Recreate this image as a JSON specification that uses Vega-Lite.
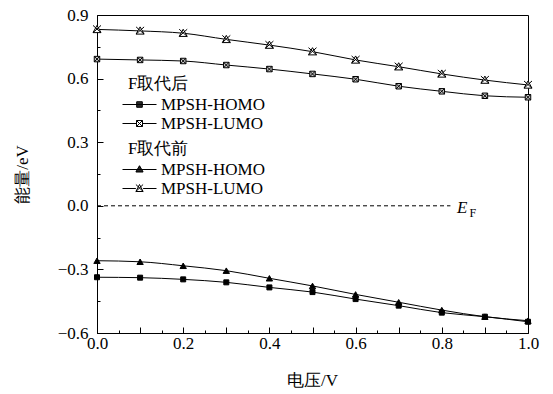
{
  "$schema": "https://vega.github.io/schema/vega-lite/v6.json",
  "width": 431,
  "height": 318,
  "autosize": "none",
  "padding": {"left": 97, "top": 15, "right": 25, "bottom": 61},
  "config": {
    "view": {"stroke": "black", "strokeWidth": 1},
    "font": "Liberation Serif"
  },
  "data": {
    "values": [
      {"v": 0.0, "e": -0.337, "group": "after", "series": "MPSH-HOMO"},
      {"v": 0.1, "e": -0.339, "group": "after", "series": "MPSH-HOMO"},
      {"v": 0.2, "e": -0.347, "group": "after", "series": "MPSH-HOMO"},
      {"v": 0.3, "e": -0.361, "group": "after", "series": "MPSH-HOMO"},
      {"v": 0.4, "e": -0.385, "group": "after", "series": "MPSH-HOMO"},
      {"v": 0.5, "e": -0.407, "group": "after", "series": "MPSH-HOMO"},
      {"v": 0.6, "e": -0.440, "group": "after", "series": "MPSH-HOMO"},
      {"v": 0.7, "e": -0.471, "group": "after", "series": "MPSH-HOMO"},
      {"v": 0.8, "e": -0.504, "group": "after", "series": "MPSH-HOMO"},
      {"v": 0.9, "e": -0.523, "group": "after", "series": "MPSH-HOMO"},
      {"v": 1.0, "e": -0.547, "group": "after", "series": "MPSH-HOMO"},
      {"v": 0.0, "e": 0.692, "group": "after", "series": "MPSH-LUMO"},
      {"v": 0.1, "e": 0.688, "group": "after", "series": "MPSH-LUMO"},
      {"v": 0.2, "e": 0.683, "group": "after", "series": "MPSH-LUMO"},
      {"v": 0.3, "e": 0.664, "group": "after", "series": "MPSH-LUMO"},
      {"v": 0.4, "e": 0.645, "group": "after", "series": "MPSH-LUMO"},
      {"v": 0.5, "e": 0.622, "group": "after", "series": "MPSH-LUMO"},
      {"v": 0.6, "e": 0.597, "group": "after", "series": "MPSH-LUMO"},
      {"v": 0.7, "e": 0.564, "group": "after", "series": "MPSH-LUMO"},
      {"v": 0.8, "e": 0.540, "group": "after", "series": "MPSH-LUMO"},
      {"v": 0.9, "e": 0.519, "group": "after", "series": "MPSH-LUMO"},
      {"v": 1.0, "e": 0.512, "group": "after", "series": "MPSH-LUMO"},
      {"v": 0.0, "e": -0.259, "group": "before", "series": "MPSH-HOMO"},
      {"v": 0.1, "e": -0.264, "group": "before", "series": "MPSH-HOMO"},
      {"v": 0.2, "e": -0.283, "group": "before", "series": "MPSH-HOMO"},
      {"v": 0.3, "e": -0.306, "group": "before", "series": "MPSH-HOMO"},
      {"v": 0.4, "e": -0.342, "group": "before", "series": "MPSH-HOMO"},
      {"v": 0.5, "e": -0.378, "group": "before", "series": "MPSH-HOMO"},
      {"v": 0.6, "e": -0.418, "group": "before", "series": "MPSH-HOMO"},
      {"v": 0.7, "e": -0.455, "group": "before", "series": "MPSH-HOMO"},
      {"v": 0.8, "e": -0.492, "group": "before", "series": "MPSH-HOMO"},
      {"v": 0.9, "e": -0.523, "group": "before", "series": "MPSH-HOMO"},
      {"v": 1.0, "e": -0.542, "group": "before", "series": "MPSH-HOMO"},
      {"v": 0.0, "e": 0.832, "group": "before", "series": "MPSH-LUMO"},
      {"v": 0.1, "e": 0.825, "group": "before", "series": "MPSH-LUMO"},
      {"v": 0.2, "e": 0.814, "group": "before", "series": "MPSH-LUMO"},
      {"v": 0.3, "e": 0.785, "group": "before", "series": "MPSH-LUMO"},
      {"v": 0.4, "e": 0.758, "group": "before", "series": "MPSH-LUMO"},
      {"v": 0.5, "e": 0.727, "group": "before", "series": "MPSH-LUMO"},
      {"v": 0.6, "e": 0.688, "group": "before", "series": "MPSH-LUMO"},
      {"v": 0.7, "e": 0.656, "group": "before", "series": "MPSH-LUMO"},
      {"v": 0.8, "e": 0.622, "group": "before", "series": "MPSH-LUMO"},
      {"v": 0.9, "e": 0.593, "group": "before", "series": "MPSH-LUMO"},
      {"v": 1.0, "e": 0.570, "group": "before", "series": "MPSH-LUMO"}
    ]
  },
  "encoding": {
    "x": {
      "field": "v", "type": "quantitative",
      "scale": {"domain": [0, 1], "nice": false},
      "axis": {
        "title": "电压/V",
        "values": [0, 0.05, 0.1, 0.15, 0.2, 0.25, 0.3, 0.35, 0.4, 0.45, 0.5, 0.55, 0.6, 0.65, 0.7, 0.75, 0.8, 0.85, 0.9, 0.95, 1.0],
        "labelExpr": "round(datum.value*20)%4==0 ? format(datum.value,'.1f') : ''",
        "tickSize": {"condition": {"test": "round(datum.value*20)%2==0", "value": -6}, "value": -3},
        "labelPadding": 8,
        "grid": false,
        "labelFont": "Liberation Serif", "titleFont": "Liberation Serif",
        "domainColor": "black", "tickColor": "black", "labelColor": "black", "titleColor": "black",
        "labelFontSize": 17, "titleFontSize": 17, "titleFontWeight": "normal",
        "labelFlush": false, "labelOverlap": false, "labelBound": false,
        "titleX": 215, "titleY": 47, "titleBaseline": "middle"
      }
    },
    "y": {
      "field": "e", "type": "quantitative",
      "scale": {"domain": [-0.6, 0.9], "nice": false},
      "axis": {
        "title": "能量/eV",
        "values": [-0.6, -0.45, -0.3, -0.15, 0, 0.15, 0.3, 0.45, 0.6, 0.75, 0.9],
        "labelExpr": "round((datum.value+0.6)/0.15)%2==0 ? format(datum.value,'.1f') : ''",
        "tickSize": {"condition": {"test": "round((datum.value+0.6)/0.15)%2==0", "value": -6}, "value": -3},
        "labelPadding": 15,
        "grid": false,
        "labelFont": "Liberation Serif", "titleFont": "Liberation Serif",
        "domainColor": "black", "tickColor": "black", "labelColor": "black", "titleColor": "black",
        "labelFontSize": 17, "titleFontSize": 17, "titleFontWeight": "normal",
        "labelOverlap": false, "labelBound": false, "labelFlush": false,
        "titleX": -75, "titleY": 159, "titleBaseline": "middle", "titleAngle": -90, "titleAlign": "center"
      }
    }
  },
  "layer": [
    {
      "mark": {"type": "line", "color": "black", "strokeWidth": 1, "interpolate": "monotone"},
      "encoding": {"detail": [{"field": "group"}, {"field": "series"}]}
    },
    {
      "transform": [{"filter": "datum.group == 'after' && datum.series == 'MPSH-HOMO'"}],
      "mark": {"type": "point", "shape": "square", "size": 25, "filled": true, "fill": "black", "stroke": "black", "strokeWidth": 1, "opacity": 1}
    },
    {
      "transform": [{"filter": "datum.group == 'after' && datum.series == 'MPSH-LUMO'"}],
      "mark": {"type": "point", "shape": "M-1,-1H1V1H-1ZM-1,-1L1,1M1,-1L-1,1", "size": 30, "filled": true, "fill": "#c8c8c8", "stroke": "black", "strokeWidth": 1, "opacity": 1}
    },
    {
      "transform": [{"filter": "datum.group == 'before' && datum.series == 'MPSH-HOMO'"}],
      "mark": {"type": "point", "shape": "triangle-up", "size": 40, "filled": true, "fill": "black", "stroke": "black", "strokeWidth": 1, "opacity": 1}
    },
    {
      "transform": [{"filter": "datum.group == 'before' && datum.series == 'MPSH-LUMO'"}],
      "mark": {"type": "point", "shape": "M0,-1L1,0.8H-1ZM-1,-1L1,0.8M1,-1L-1,0.8", "size": 64, "filled": true, "fill": "white", "stroke": "black", "strokeWidth": 1, "opacity": 1}
    },
    {
      "transform": [{"filter": "datum.group == 'legend-after'"}],
      "mark": {"type": "point", "filled": false, "color": "black", "stroke": "black", "strokeWidth": 1, "opacity": 1, "size": 64},
      "encoding": {
        "shape": {
          "field": "series", "type": "nominal",
          "scale": {"domain": ["MPSH-HOMO", "MPSH-LUMO"], "range": [
            "M-4.25,0H4.25M-0.7,-0.7H0.7V0.7H-0.7ZM-0.7,-0.45H0.7M-0.7,-0.2H0.7M-0.7,0.05H0.7M-0.7,0.3H0.7M-0.7,0.55H0.7",
            "M-4.25,0H-0.75M0.75,0H4.25M-0.75,-0.75H0.75V0.75H-0.75ZM-0.75,-0.75L0.75,0.75M0.75,-0.75L-0.75,0.75"
          ]},
          "legend": {
            "title": "F取代后", "orient": "none", "legendX": 31, "legendY": 61,
            "titleFont": "Liberation Serif", "labelFont": "Liberation Serif",
            "titleFontSize": 17, "titleFontWeight": "normal", "titleColor": "black", "titlePadding": 3,
            "labelFontSize": 17, "labelColor": "black", "labelOffset": 13, "symbolOffset": 3,
            "symbolSize": 64, "rowPadding": 1, "padding": 0, "symbolOpacity": 1,
            "symbolStrokeColor": "black", "symbolStrokeWidth": 1
          }
        }
      }
    },
    {
      "transform": [{"filter": "datum.group == 'legend-before'"}],
      "mark": {"type": "point", "filled": false, "color": "black", "stroke": "black", "strokeWidth": 1, "opacity": 1, "size": 64},
      "encoding": {
        "shape": {
          "field": "series", "type": "nominal",
          "scale": {"domain": ["MPSH-HOMO", "MPSH-LUMO"], "range": [
            "M-4.25,0H4.25M0,-0.95L0.9,0.6H-0.9ZM-0.145,-0.7H0.145M-0.29,-0.45H0.29M-0.435,-0.2H0.435M-0.58,0.05H0.58M-0.726,0.3H0.726M-0.871,0.55H0.871",
            "M-4.25,0H-0.9M0.9,0H4.25M0,-1L0.9,0.75H-0.9ZM-0.9,-1L0.9,0.75M0.9,-1L-0.9,0.75"
          ]},
          "legend": {
            "title": "F取代前", "orient": "none", "legendX": 31, "legendY": 126,
            "titleFont": "Liberation Serif", "labelFont": "Liberation Serif",
            "titleFontSize": 17, "titleFontWeight": "normal", "titleColor": "black", "titlePadding": 3,
            "labelFontSize": 17, "labelColor": "black", "labelOffset": 13, "symbolOffset": 3,
            "symbolSize": 64, "rowPadding": 1, "padding": 0, "symbolOpacity": 1,
            "symbolStrokeColor": "black", "symbolStrokeWidth": 1
          }
        }
      }
    },
    {
      "data": {"values": [{"x1": 0, "x2": 0.82, "y": 0}]},
      "mark": {"type": "rule", "color": "black", "strokeWidth": 1, "strokeDash": [4, 3]},
      "encoding": {
        "x": {"field": "x1", "type": "quantitative"},
        "x2": {"field": "x2"},
        "y": {"field": "y", "type": "quantitative"}
      }
    },
    {
      "data": {"values": [{"x": 0.835, "y": 0, "t": "E"}]},
      "mark": {"type": "text", "align": "left", "baseline": "alphabetic", "dy": 7, "fontSize": 17, "fontStyle": "italic", "font": "Liberation Serif", "color": "black"},
      "encoding": {
        "x": {"field": "x", "type": "quantitative"},
        "y": {"field": "y", "type": "quantitative"},
        "text": {"field": "t"}
      }
    },
    {
      "data": {"values": [{"x": 0.8645, "y": 0, "t": "F"}]},
      "mark": {"type": "text", "align": "left", "baseline": "alphabetic", "dy": 11, "fontSize": 12, "font": "Liberation Serif", "color": "black"},
      "encoding": {
        "x": {"field": "x", "type": "quantitative"},
        "y": {"field": "y", "type": "quantitative"},
        "text": {"field": "t"}
      }
    }
  ],
  "resolve": {"scale": {"shape": "independent"}}
}
